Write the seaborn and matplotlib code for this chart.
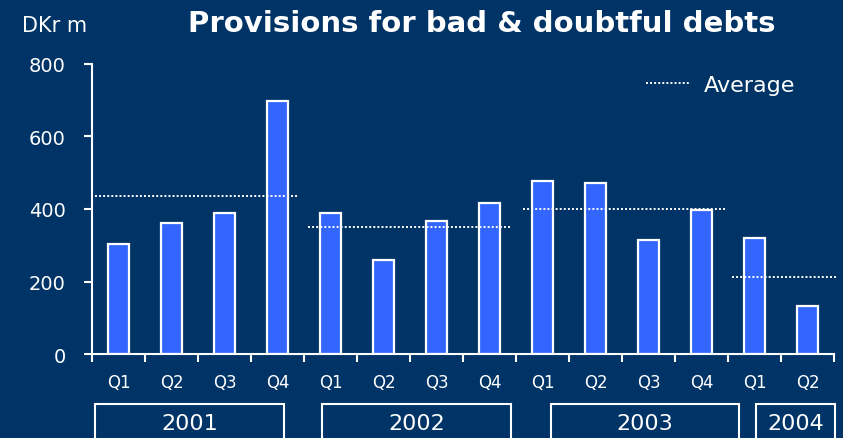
import matplotlib
matplotlib.use("Agg")
import matplotlib.pyplot as plt
import matplotlib.transforms as mtransforms
from matplotlib.patches import Rectangle
from matplotlib.lines import Line2D
import seaborn as sns
import pandas as pd

# data
years = ['2001', '2001', '2001', '2001', '2002', '2002', '2002', '2002',
         '2003', '2003', '2003', '2003', '2004', '2004']
quarters = ['Q1', 'Q2', 'Q3', 'Q4', 'Q1', 'Q2', 'Q3', 'Q4',
            'Q1', 'Q2', 'Q3', 'Q4', 'Q1', 'Q2']
provisions = [303, 361, 388, 697, 389, 258, 368, 416,
              477, 472, 314, 398, 319, 132]
year_labels = ['2001', '2002', '2003', '2004']
year_average = [436, 351, 400, 212]

bg = '#003366'
bar_col = '#3366FF'

df = pd.DataFrame({'period': [f'{y} {q}' for y, q in zip(years, quarters)],
                   'value': provisions})

sns.set_style('white')
plt.rcParams['font.family'] = ['DejaVu Sans']

fig = plt.figure(figsize=(8.43, 4.39), dpi=100, facecolor=bg)
ax = fig.add_axes([0.1091, 0.1913, 0.8802, 0.6607])
ax.set_facecolor(bg)

sns.barplot(data=df, x='period', y='value', color=bar_col, saturation=1,
            edgecolor='white', linewidth=1.6, width=0.4, ax=ax)

# yearly averages (dotted)
avg_spans = [(-0.44, 3.39), (3.58, 7.42), (7.64, 11.48), (11.58, 13.55)]
for (x0, x1), v in zip(avg_spans, year_average):
    ax.plot([x0, x1], [v, v], color='white', lw=1.4, ls=(0, (1, 1.1)),
            clip_on=False, zorder=5)

ax.set_xlim(-0.5, 13.5)
ax.set_ylim(0, 800)
ax.set_yticks([0, 200, 400, 600, 800])
ax.set_xticks(range(len(quarters)))
ax.set_xticklabels(quarters)
ax.set_xticks([i - 0.5 for i in range(len(quarters) + 1)], minor=True)
ax.tick_params(axis='x', which='major', bottom=True, length=0, pad=14,
               colors='white', labelsize=12)
ax.tick_params(axis='x', which='minor', bottom=True, length=6, width=1.5,
               color='white', direction='out')
ax.tick_params(axis='y', left=True, length=6, width=1.5, color='white',
               direction='out', colors='white', labelsize=14, pad=13)
ax.set_xlabel('')
ax.set_ylabel('')
for s in ['top', 'right']:
    ax.spines[s].set_visible(False)
for s in ['left', 'bottom']:
    ax.spines[s].set_color('white')
    ax.spines[s].set_linewidth(1.5)

# year boxes below the quarters
trans = mtransforms.blended_transform_factory(ax.transData, fig.transFigure)
box_spans = [(-0.44, 3.12), (3.84, 7.41), (8.16, 11.71), (12.03, 13.52)]
for (x0, x1), lab in zip(box_spans, year_labels):
    ax.add_patch(Rectangle((x0, -0.05), x1 - x0, 0.127, transform=trans,
                           fill=False, edgecolor='white', lw=1.5, clip_on=False))
    ax.text((x0 + x1) / 2, 0.035, lab, transform=trans, ha='center', va='center',
            color='white', fontsize=16)

# legend
ax.legend(handles=[Line2D([], [], color='white', lw=1.4, ls=(0, (1, 1.1)))],
          labels=['Average'], loc='upper right', bbox_to_anchor=(0.975, 1.03),
          frameon=False, handlelength=2.0, handletextpad=0.6, fontsize=16,
          labelcolor='white')

fig.text(0.571, 0.945, 'Provisions for bad & doubtful debts', color='white',
         fontsize=21, fontweight='bold', ha='center', va='center')
fig.text(0.026, 0.94, 'DKr m', color='white', fontsize=15, ha='left', va='center')

fig.savefig('out.png', dpi=100, facecolor=bg)
